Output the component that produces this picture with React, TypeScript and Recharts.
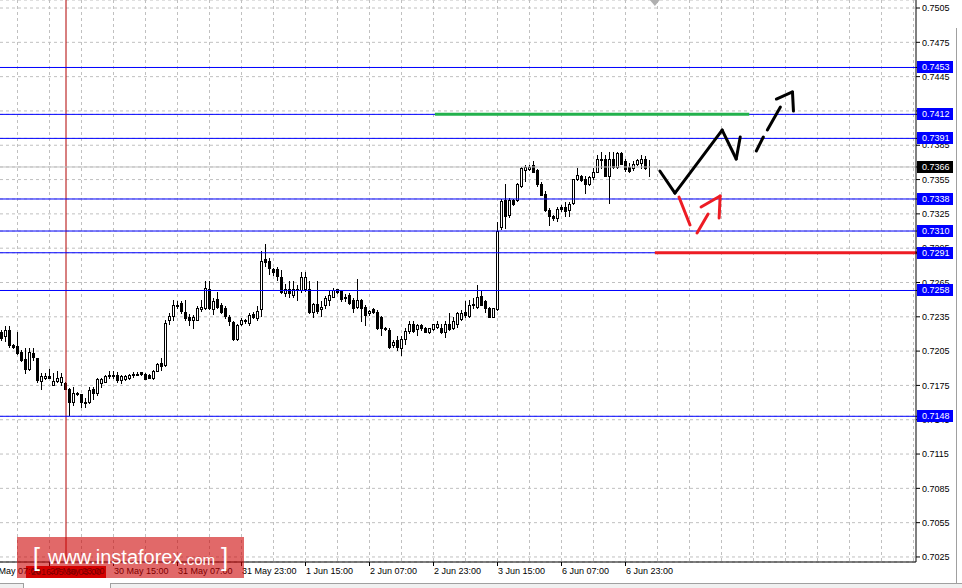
import React from 'react';
import { ComposedChart, Bar, XAxis, YAxis, CartesianGrid, ReferenceLine, ReferenceDot } from 'recharts';

// ---- candle data (H1, 163 bars) ----
const opens = [
  0.72217, 0.72178, 0.72238, 0.72103, 0.72094, 0.72042, 0.71981, 0.71893, 0.72034, 0.71990,
  0.71788, 0.71815, 0.71832, 0.71758, 0.71788, 0.71784, 0.71775, 0.71723, 0.71609, 0.71684,
  0.71675, 0.71601, 0.71601, 0.71723, 0.71688, 0.71767, 0.71784, 0.71845, 0.71845, 0.71845,
  0.71797, 0.71810, 0.71819, 0.71854, 0.71845, 0.71863, 0.71850, 0.71841, 0.71815, 0.71880,
  0.71942, 0.71928, 0.72326, 0.72357, 0.72444, 0.72471, 0.72392, 0.72352, 0.72326, 0.72326,
  0.72414, 0.72427, 0.72593, 0.72414, 0.72506, 0.72457, 0.72423, 0.72352, 0.72304, 0.72156,
  0.72283, 0.72322, 0.72300, 0.72374, 0.72339, 0.72414, 0.72851, 0.72838, 0.72768, 0.72772,
  0.72702, 0.72558, 0.72597, 0.72541, 0.72597, 0.72580, 0.72597, 0.72597, 0.72392, 0.72462,
  0.72414, 0.72457, 0.72501, 0.72527, 0.72589, 0.72576, 0.72523, 0.72541, 0.72497, 0.72440,
  0.72497, 0.72440, 0.72379, 0.72418, 0.72396, 0.72352, 0.72248, 0.72234, 0.72103, 0.72147,
  0.72073, 0.72160, 0.72226, 0.72291, 0.72243, 0.72278, 0.72248, 0.72213, 0.72243, 0.72265,
  0.72256, 0.72213, 0.72291, 0.72248, 0.72291, 0.72335, 0.72396, 0.72361, 0.72466, 0.72440,
  0.72536, 0.72488, 0.72423, 0.72352, 0.72418, 0.73131, 0.73371, 0.73236, 0.73371, 0.73371,
  0.73498, 0.73634, 0.73642, 0.73673, 0.73634, 0.73515, 0.73428, 0.73284, 0.73231, 0.73218,
  0.73306, 0.73306, 0.73284, 0.73341, 0.73559, 0.73585, 0.73559, 0.73507, 0.73568, 0.73620,
  0.73721, 0.73730, 0.73585, 0.73730, 0.73664, 0.73778, 0.73712, 0.73664, 0.73647, 0.73682,
  0.73699, 0.73734, 0.73664,
];
const highs = [
  0.72234, 0.72269, 0.72269, 0.72112, 0.72217, 0.72060, 0.72077, 0.72077, 0.72077, 0.71994,
  0.71858, 0.71858, 0.71893, 0.71858, 0.71872, 0.71858, 0.71780, 0.71727, 0.71736, 0.71692,
  0.71679, 0.71640, 0.71740, 0.71740, 0.71819, 0.71819, 0.71841, 0.71876, 0.71872, 0.71867,
  0.71841, 0.71845, 0.71854, 0.71867, 0.71863, 0.71867, 0.71858, 0.71850, 0.71885, 0.71942,
  0.71994, 0.72322, 0.72383, 0.72497, 0.72488, 0.72488, 0.72497, 0.72374, 0.72370, 0.72444,
  0.72497, 0.72663, 0.72663, 0.72514, 0.72571, 0.72471, 0.72444, 0.72370, 0.72313, 0.72287,
  0.72339, 0.72331, 0.72383, 0.72396, 0.72444, 0.72921, 0.72986, 0.72864, 0.72781, 0.72785,
  0.72755, 0.72637, 0.72659, 0.72659, 0.72632, 0.72746, 0.72746, 0.72659, 0.72471, 0.72659,
  0.72484, 0.72536, 0.72584, 0.72602, 0.72597, 0.72584, 0.72545, 0.72558, 0.72510, 0.72680,
  0.72506, 0.72453, 0.72409, 0.72431, 0.72409, 0.72361, 0.72265, 0.72248, 0.72147, 0.72178,
  0.72178, 0.72248, 0.72309, 0.72313, 0.72287, 0.72291, 0.72265, 0.72256, 0.72291, 0.72309,
  0.72291, 0.72309, 0.72379, 0.72352, 0.72396, 0.72409, 0.72484, 0.72497, 0.72510, 0.72628,
  0.72576, 0.72497, 0.72440, 0.72431, 0.73183, 0.73384, 0.73507, 0.73389, 0.73380, 0.73524,
  0.73664, 0.73677, 0.73673, 0.73708, 0.73642, 0.73533, 0.73446, 0.73297, 0.73240, 0.73306,
  0.73327, 0.73358, 0.73358, 0.73559, 0.73655, 0.73594, 0.73577, 0.73577, 0.73655, 0.73769,
  0.73795, 0.73769, 0.73787, 0.73787, 0.73787, 0.73787, 0.73730, 0.73695, 0.73708, 0.73734,
  0.73765, 0.73752, 0.73721,
];
const lows = [
  0.72147, 0.72138, 0.72086, 0.72077, 0.72025, 0.71963, 0.71858, 0.71885, 0.71972, 0.71784,
  0.71719, 0.71806, 0.71815, 0.71754, 0.71780, 0.71754, 0.71719, 0.71491, 0.71579, 0.71666,
  0.71561, 0.71561, 0.71592, 0.71631, 0.71666, 0.71740, 0.71780, 0.71819, 0.71815, 0.71784,
  0.71771, 0.71797, 0.71810, 0.71824, 0.71841, 0.71841, 0.71806, 0.71815, 0.71806, 0.71876,
  0.71885, 0.71920, 0.72287, 0.72326, 0.72431, 0.72383, 0.72326, 0.72278, 0.72248, 0.72318,
  0.72405, 0.72414, 0.72414, 0.72374, 0.72427, 0.72383, 0.72339, 0.72278, 0.72147, 0.72147,
  0.72274, 0.72296, 0.72278, 0.72339, 0.72326, 0.72357, 0.72794, 0.72720, 0.72715, 0.72676,
  0.72558, 0.72532, 0.72523, 0.72527, 0.72501, 0.72571, 0.72576, 0.72383, 0.72348, 0.72383,
  0.72357, 0.72427, 0.72449, 0.72519, 0.72562, 0.72488, 0.72484, 0.72466, 0.72396, 0.72423,
  0.72309, 0.72278, 0.72366, 0.72387, 0.72243, 0.72191, 0.72234, 0.72077, 0.72090, 0.72060,
  0.72016, 0.72116, 0.72204, 0.72221, 0.72191, 0.72234, 0.72213, 0.72204, 0.72234, 0.72256,
  0.72204, 0.72169, 0.72234, 0.72243, 0.72265, 0.72322, 0.72344, 0.72344, 0.72423, 0.72431,
  0.72453, 0.72396, 0.72344, 0.72344, 0.72409, 0.73122, 0.73126, 0.73223, 0.73327, 0.73364,
  0.73489, 0.73537, 0.73634, 0.73612, 0.73498, 0.73415, 0.73275, 0.73153, 0.73196, 0.73188,
  0.73271, 0.73227, 0.73227, 0.73332, 0.73546, 0.73537, 0.73432, 0.73502, 0.73555, 0.73612,
  0.73651, 0.73577, 0.73345, 0.73647, 0.73655, 0.73682, 0.73625, 0.73620, 0.73634, 0.73673,
  0.73655, 0.73642, 0.73585,
];
const closes = [
  0.72164, 0.72234, 0.72103, 0.72086, 0.72034, 0.71972, 0.71893, 0.72042, 0.71999, 0.71793,
  0.71832, 0.71832, 0.71819, 0.71788, 0.71815, 0.71824, 0.71723, 0.71601, 0.71688, 0.71671,
  0.71601, 0.71592, 0.71714, 0.71688, 0.71810, 0.71810, 0.71832, 0.71828, 0.71828, 0.71797,
  0.71828, 0.71832, 0.71837, 0.71841, 0.71854, 0.71850, 0.71810, 0.71819, 0.71872, 0.71933,
  0.71920, 0.72296, 0.72357, 0.72449, 0.72453, 0.72401, 0.72339, 0.72326, 0.72348, 0.72427,
  0.72440, 0.72602, 0.72423, 0.72492, 0.72440, 0.72392, 0.72361, 0.72309, 0.72156, 0.72278,
  0.72326, 0.72309, 0.72370, 0.72348, 0.72401, 0.72838, 0.72829, 0.72777, 0.72746, 0.72707,
  0.72567, 0.72597, 0.72558, 0.72597, 0.72580, 0.72702, 0.72694, 0.72392, 0.72462, 0.72401,
  0.72440, 0.72514, 0.72541, 0.72584, 0.72571, 0.72506, 0.72510, 0.72475, 0.72431, 0.72497,
  0.72423, 0.72370, 0.72401, 0.72396, 0.72248, 0.72248, 0.72239, 0.72090, 0.72134, 0.72090,
  0.72156, 0.72226, 0.72291, 0.72226, 0.72274, 0.72248, 0.72221, 0.72248, 0.72283, 0.72291,
  0.72221, 0.72291, 0.72243, 0.72309, 0.72379, 0.72379, 0.72370, 0.72453, 0.72453, 0.72523,
  0.72457, 0.72423, 0.72352, 0.72423, 0.73100, 0.73364, 0.73227, 0.73371, 0.73332, 0.73515,
  0.73655, 0.73664, 0.73664, 0.73620, 0.73507, 0.73419, 0.73284, 0.73227, 0.73214, 0.73292,
  0.73292, 0.73271, 0.73332, 0.73555, 0.73590, 0.73546, 0.73507, 0.73568, 0.73620, 0.73734,
  0.73734, 0.73585, 0.73730, 0.73664, 0.73778, 0.73690, 0.73642, 0.73625, 0.73690, 0.73721,
  0.73730, 0.73655, 0.73660,
];

// ---- axes ----
const TOTAL_SLOTS = 229; // bars + empty future slots
const timeTickSlots = [0, 12, 28, 44, 60, 76, 92, 108, 124, 140, 156];
const timeTickLabels = [
  '27 May 07:00', '27 May 23:00', '30 May 15:00', '31 May 07:00', '31 May 23:00', '1 Jun 15:00',
  '2 Jun 07:00', '2 Jun 23:00', '3 Jun 15:00', '6 Jun 07:00', '6 Jun 23:00',
];
// the first label belongs to a bar 4 slots left of the visible window
const timeTickSlotShift = [-4, 0, 0, 0, 0, 0, 0, 0, 0, 0, 0];
const priceTicks = [
  0.7025, 0.7055, 0.7085, 0.7115, 0.7145, 0.7175, 0.7205, 0.7235, 0.7265,
  0.7295, 0.7325, 0.7355, 0.7385, 0.7415, 0.7445, 0.7475, 0.7505,
];
const priceDomain = [0.70206, 0.7512];

// ---- levels & annotations ----
const blueLevels = [0.7453, 0.7412, 0.7391, 0.7338, 0.7310, 0.7291, 0.7258, 0.7148];
const bidPrice = 0.7366;
const crosshairSlot = 16;
const crosshairLabel = '2016.05.30 03:00';
const gridEvery = 8;
const gridStart = 4;
const shiftMarkerSlot = 163;

// segments in (slot position, price)
const greenLevel = { from: 108.25, to: 186.5, price: 0.7412 };
const redLevel = { from: 163, to: 229, price: 0.7291 };
const blackSolid = [
  [164.25, 0.73625, 168, 0.73432],
  [168, 0.73432, 179.75, 0.73983],
  [179.75, 0.73983, 183.25, 0.7373],
  [183.25, 0.7373, 184.25, 0.73922],
];
const blackDashed = [
  [188.25, 0.738, 190, 0.73922],
  [191, 0.73983, 194.25, 0.74184],
  [193.25, 0.74254, 197.25, 0.74316],
  [197.25, 0.74316, 197.5, 0.74149],
];
const redArrow = [
  [169, 0.73397, 171.75, 0.73153],
  [173.5, 0.73083, 176.25, 0.73249],
  [174.5, 0.7331, 179.25, 0.73406],
  [179.25, 0.73406, 179, 0.73214],
];

const FONT = "Tahoma, 'Liberation Sans', Arial, sans-serif";
const BLUE = '#0000ff';

const Candle = (props: any) => {
  const { x, y, height, payload } = props;
  if (!payload || payload.o == null) return null;
  const top = Math.min(y, y + height);
  const h = Math.abs(height);
  const hi = payload.h, lo = payload.l;
  const range = hi - lo || 1;
  const py = (v: number) => top + ((hi - v) / range) * h;
  const left = Math.round(x);
  const cx = left + 1.5;
  const yo = Math.round(py(payload.o));
  const yc = Math.round(py(payload.c));
  const bTop = Math.min(yo, yc);
  const bBot = Math.max(yo, yc);
  const up = payload.c >= payload.o;
  return (
    <g>
      <line x1={cx} x2={cx} y1={Math.round(top)} y2={Math.round(top + h) + 1} stroke="#000" strokeWidth={1} />
      <rect x={left + 0.5} y={bTop + 0.5} width={2} height={Math.max(bBot - bTop, 0)} fill={up ? '#fff' : '#000'} stroke="#000" strokeWidth={1} />
    </g>
  );
};

const XTick = (p: any) => {
  const idx = timeTickSlots.indexOf(Number(String(p.payload.value).slice(1)));
  if (idx < 0) return null;
  const band = p.bandWidth || 4;
  const shift = timeTickSlotShift[idx] * band;
  const x = Math.round(p.x + shift) - 0.5;
  return (
    <g>
      {shift === 0 ? <line x1={x} x2={x} y1={p.y - 6} y2={p.y - 2} stroke="#000" /> : null}
      <text x={p.x + shift} y={p.y} dy="0.71em" textAnchor="start" fontFamily={FONT} fontSize={9} fill="#000">
        {timeTickLabels[idx]}
      </text>
    </g>
  );
};

const YTick = (p: any) => {
  const v = Number(p.payload.value);
  const isBid = v === bidPrice;
  const isLevel = isBid || blueLevels.indexOf(v) >= 0;
  if (!isLevel) {
    return (
      <text x={p.x} y={p.y} dy="0.36em" textAnchor="start" fontFamily={FONT} fontSize={9} fill="#000">
        {v.toFixed(4)}
      </text>
    );
  }
  const yy = Math.round(p.y);
  return (
    <g>
      <rect x={p.x - 5} y={yy - 6} width={36} height={12} fill={isBid ? '#000' : BLUE} />
      <text x={p.x} y={yy} dy="0.36em" textAnchor="start" fontFamily={FONT} fontSize={9} fill="#fff">
        {v.toFixed(4)}
      </text>
    </g>
  );
};

const CrossBox = (p: any) => {
  const vb = p.viewBox;
  if (!vb) return null;
  const x = Math.round(vb.x);
  const y = vb.y + vb.height + 4;
  return (
    <g>
      <rect x={x - 40} y={y} width={80} height={12} fill="#e00000" />
      <text x={x} y={y + 6} dy="0.36em" textAnchor="middle" fontFamily={FONT} fontSize={9} fill="#000">{p.text}</text>
    </g>
  );
};

const ShiftMarker = (p: any) => {
  const { cx, cy } = p;
  if (cx == null) return null;
  return <polygon points={`${cx - 5},${cy} ${cx + 5},${cy} ${cx},${cy + 6}`} fill="#b0b0b0" />;
};

const seg = (s: number[]) => [{ x: s[0], y: s[1] }, { x: s[2], y: s[3] }];

export default function App() {
  const data = Array.from({ length: TOTAL_SLOTS }, (_, i) => ({
    k: 's' + i,
    o: opens[i],
    h: highs[i],
    l: lows[i],
    c: closes[i],
  }));
  const tickKeys = timeTickSlots.map((i) => 's' + i);
  const gridKeys: string[] = [];
  for (let i = gridStart; i < TOTAL_SLOTS; i += gridEvery) gridKeys.push('s' + i);
  // plain ticks first, level ticks last so their boxes sit on top
  const yTicks = [...priceTicks, bidPrice, ...blueLevels];

  const vGen = (arg: any) => {
    const xa = arg && arg.xAxis;
    if (xa && typeof xa.scale === 'function') {
      return gridKeys.map((k) => Math.round(xa.scale(k)) + 1.5);
    }
    const w = arg.offset.width / TOTAL_SLOTS;
    return gridKeys.map((k) => Math.round(Number(k.slice(1)) * w) + 1.5);
  };

  return (
    <div style={{ position: 'absolute', left: 0, top: 0, width: 962, height: 588, background: '#fff', overflow: 'hidden' }}>
      <ComposedChart
        width={962}
        height={588}
        data={data}
        margin={{ top: 0, right: 0, bottom: 0, left: 0 }}
        barCategoryGap={0}
        barGap={0}
      >
        <CartesianGrid
          xAxisId="cat"
          stroke="#c0c0c0"
          strokeDasharray="3 3"
          verticalCoordinatesGenerator={vGen}
        />
        <XAxis
          xAxisId="cat"
          dataKey="k"
          type="category"
          height={26}
          interval={0}
          ticks={tickKeys}
          tick={<XTick />}
          tickSize={4}
          tickLine={false}
          axisLine={{ stroke: '#000' }}
        />
        <XAxis xAxisId="num" type="number" domain={[0, TOTAL_SLOTS]} allowDataOverflow hide />
        <YAxis
          orientation="right"
          width={46}
          type="number"
          domain={priceDomain}
          allowDataOverflow
          ticks={yTicks}
          interval={0}
          tick={<YTick />}
          tickSize={4}
          tickLine={{ stroke: '#000' }}
          axisLine={{ stroke: '#000' }}
        />
        <ReferenceLine xAxisId="cat" x={'s' + crosshairSlot} stroke="#b00000" strokeWidth={1} label={<CrossBox text={crosshairLabel} />} />
        <ReferenceLine xAxisId="cat" y={bidPrice} stroke="#c0c0c0" strokeWidth={1} />
        {blueLevels.map((lv) => (
          <ReferenceLine key={lv} xAxisId="cat" y={lv} stroke={BLUE} strokeWidth={1} />
        ))}
        <Bar
          xAxisId="cat"
          dataKey={(d: any) => (d.o == null ? null : [d.l, d.h])}
          shape={<Candle />}
          isAnimationActive={false}
        />
        <ReferenceLine xAxisId="num" segment={[{ x: greenLevel.from, y: greenLevel.price }, { x: greenLevel.to, y: greenLevel.price }]} stroke="#22b14c" strokeWidth={3} ifOverflow="visible" />
        <ReferenceLine xAxisId="num" segment={[{ x: redLevel.from, y: redLevel.price }, { x: redLevel.to, y: redLevel.price }]} stroke="#ed1c24" strokeWidth={3} ifOverflow="visible" />
        {blackSolid.map((s, i) => (
          <ReferenceLine key={'bs' + i} xAxisId="num" segment={seg(s)} stroke="#000" strokeWidth={3} strokeLinecap="round" ifOverflow="visible" />
        ))}
        {blackDashed.map((s, i) => (
          <ReferenceLine key={'bd' + i} xAxisId="num" segment={seg(s)} stroke="#000" strokeWidth={3} strokeLinecap="round" ifOverflow="visible" />
        ))}
        {redArrow.map((s, i) => (
          <ReferenceLine key={'ra' + i} xAxisId="num" segment={seg(s)} stroke="#ed1c24" strokeWidth={3} strokeLinecap="round" ifOverflow="visible" />
        ))}
        <ReferenceDot xAxisId="num" x={shiftMarkerSlot} y={priceDomain[1]} r={0} shape={<ShiftMarker />} ifOverflow="visible" />
      </ComposedChart>
      <div
        style={{
          position: 'absolute', left: 17, top: 537, width: 227, height: 41,
          background: 'rgba(204,0,0,0.59)', color: '#fff', fontFamily: "'Liberation Sans', Arial, sans-serif",
          display: 'flex', alignItems: 'center', justifyContent: 'center', whiteSpace: 'nowrap',
        }}
      >
        <span style={{ fontSize: 26, fontWeight: 300 }}>[</span>
        <span style={{ fontSize: 20, marginLeft: 8 }}>www.instaforex</span>
        <span style={{ fontSize: 15, marginTop: 4 }}>.com</span>
        <span style={{ fontSize: 26, marginLeft: 6 }}>]</span>
      </div>
      <div style={{ position: 'absolute', left: 0, top: 583, width: 962, height: 5, background: '#f0f0f0', borderTop: '1px solid #a0a0a0' }} />
      <div style={{ position: 'absolute', left: 23, top: 583, width: 86, height: 5, background: '#fff', borderLeft: '1px solid #a0a0a0', borderRight: '1px solid #a0a0a0' }} />
      <div style={{ position: 'absolute', left: 956, top: 28, width: 1, height: 555, background: '#a0a0a0' }} />
    </div>
  );
}
